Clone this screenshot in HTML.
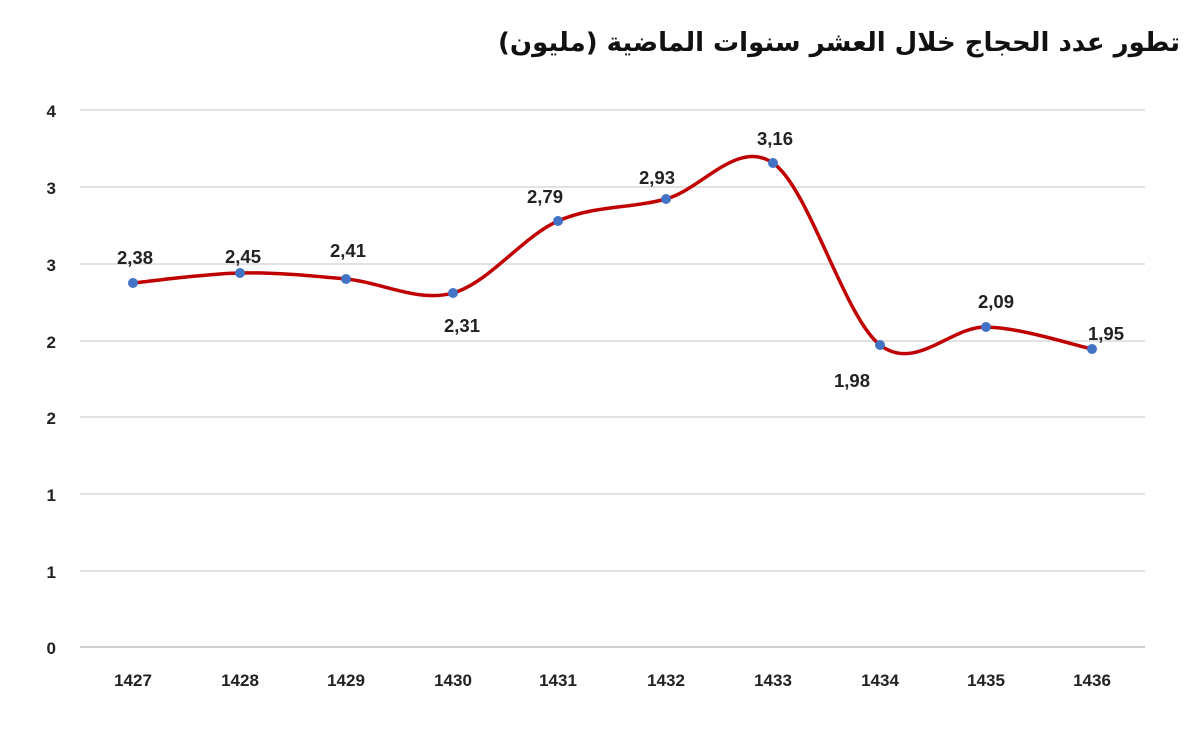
<!DOCTYPE html>
<html><head><meta charset="utf-8"><style>
body{margin:0;background:#fff;position:relative;width:1200px;height:740px;overflow:hidden}
svg text{font-family:"Liberation Sans",sans-serif;font-weight:bold;fill:#222}
#t{position:absolute;right:20px;top:23px;font-family:"DejaVu Sans","Liberation Sans",sans-serif;font-weight:bold;font-size:26px;color:#111;direction:rtl;white-space:nowrap;line-height:40px}
</style></head><body>
<svg width="1200" height="740" xmlns="http://www.w3.org/2000/svg" style="position:absolute;left:0;top:0">
<rect width="1200" height="740" fill="#fff"/>
<g stroke="#d9d9d9" stroke-width="1.5">
<line x1="80" y1="110" x2="1145" y2="110"/><line x1="80" y1="187" x2="1145" y2="187"/>
<line x1="80" y1="264" x2="1145" y2="264"/><line x1="80" y1="341" x2="1145" y2="341"/>
<line x1="80" y1="417" x2="1145" y2="417"/><line x1="80" y1="494" x2="1145" y2="494"/>
<line x1="80" y1="571" x2="1145" y2="571"/></g>
<line x1="80" y1="647" x2="1145" y2="647" stroke="#bfbfbf" stroke-width="1.5"/>
<g font-size="17" text-anchor="end">
<text x="56" y="117">4</text><text x="56" y="194">3</text><text x="56" y="271">3</text><text x="56" y="348">2</text>
<text x="56" y="424">2</text><text x="56" y="501">1</text><text x="56" y="578">1</text><text x="56" y="654">0</text></g>
<g font-size="17" text-anchor="middle">
<text x="133" y="686">1427</text><text x="240" y="686">1428</text><text x="346" y="686">1429</text><text x="453" y="686">1430</text><text x="558" y="686">1431</text>
<text x="666" y="686">1432</text><text x="773" y="686">1433</text><text x="880" y="686">1434</text><text x="986" y="686">1435</text><text x="1092" y="686">1436</text></g>
<path d="M133,283 C150.8,281.3 204.5,273.7 240,273 C275.5,272.3 310.5,275.7 346,279 C381.5,282.3 417.7,302.7 453,293 C488.3,283.3 522.5,236.7 558,221 C593.5,205.3 630.2,208.7 666,199 C701.8,189.3 737.3,138.7 773,163 C808.7,187.3 844.5,317.7 880,345 C915.5,372.3 950.7,326.3 986,327 C1021.3,327.7 1074.3,345.3 1092,349" fill="none" stroke="#c00000" stroke-width="3.5"/>
<g fill="#4472c4">
<circle cx="133" cy="283" r="5"/><circle cx="240" cy="273" r="5"/><circle cx="346" cy="279" r="5"/><circle cx="453" cy="293" r="5"/><circle cx="558" cy="221" r="5"/>
<circle cx="666" cy="199" r="5"/><circle cx="773" cy="163" r="5"/><circle cx="880" cy="345" r="5"/><circle cx="986" cy="327" r="5"/><circle cx="1092" cy="349" r="5"/></g>
<g font-size="18.5" text-anchor="middle">
<text x="135" y="264">2,38</text><text x="243" y="263">2,45</text><text x="348" y="257">2,41</text><text x="462" y="332">2,31</text>
<text x="545" y="203">2,79</text><text x="657" y="184">2,93</text><text x="775" y="145">3,16</text><text x="852" y="387">1,98</text>
<text x="996" y="308">2,09</text><text x="1106" y="340">1,95</text></g>
</svg>
<div id="t">تطور عدد الحجاج خلال العشر سنوات الماضية (مليون)</div>
</body></html>
